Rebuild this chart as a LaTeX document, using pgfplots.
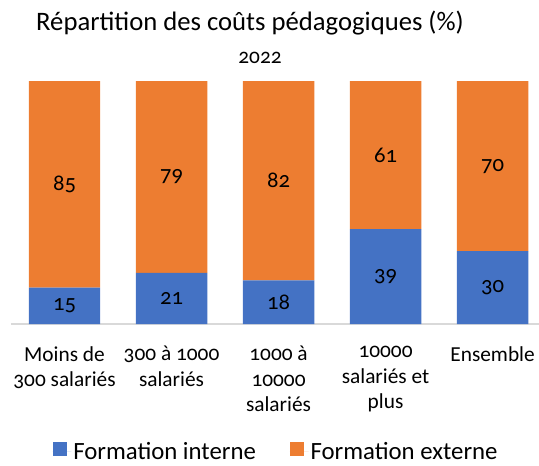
\documentclass[border=0pt]{standalone}
\usepackage{pgfplots}
\pgfplotsset{compat=1.18}
\usepackage{fontspec}
\setmainfont{Carlito}[Numbers=OldStyle]
\definecolor{bleu}{HTML}{4472C4}
\definecolor{orangex}{HTML}{ED7D31}
\definecolor{axisgray}{HTML}{D9D9D9}
\pgfplotsset{
  common/.style={at={(8.25pt,105.75pt)}, anchor=south west,
    width=396pt, height=182.25pt, scale only axis,
    xmin=-0.5, xmax=4.434, ymin=0, ymax=100},
}
\begin{document}
\begin{tikzpicture}
\begin{axis}[
  common,
  ybar stacked, bar width=0.668,
  axis x line=bottom, axis y line=none,
  x axis line style={draw=axisgray, line width=1.1pt, -},
  xtick={0,1,2,3,4}, xtick style={draw=none},
  xticklabels={{Moins de\\300 salariés},{300 à 1000\\salariés},{1000 à\\10000\\salariés},{10000\\salariés et\\plus},{Ensemble}},
  xticklabel style={align=center, anchor=north, yshift=-11pt, font=\fontsize{16}{19.1}\selectfont},
  ytick=\empty,
  legend columns=2,
  legend style={draw=none, at={(axis description cs:0.502,-0.525)}, anchor=center, font=\fontsize{18.6}{21}\selectfont,
    nodes={inner sep=1.5pt},
    /tikz/every even column/.append style={column sep=24pt}},
  legend image code/.code={\fill[#1] (0pt,-3.5pt) rectangle (10.5pt,7pt); \path (0pt,0pt) -- (14pt,0pt);},
]
\addplot[fill=bleu, draw=none] coordinates {(0,15) (1,21) (2,18) (3,39) (4,30)};
\addplot[fill=orangex, draw=none] coordinates {(0,85) (1,79) (2,82) (3,61) (4,70)};
\legend{Formation interne, Formation externe}
\end{axis}
\begin{axis}[
  common, axis lines=none, ticks=none,
  nodes near coords, point meta=explicit symbolic,
  every node near coord/.append style={anchor=center, font=\fontsize{17}{20}\selectfont, text=black},
]
\addplot[draw=none, mark=none, only marks] coordinates {(0,7.5)[15] (1,10.5)[21] (2,9)[18] (3,19.5)[39] (4,15)[30]};
\addplot[draw=none, mark=none, only marks] coordinates {(0,57.5)[85] (1,60.5)[79] (2,59)[82] (3,69.5)[61] (4,65)[70]};
\end{axis}
\node[anchor=base, font=\fontsize{20}{23}\selectfont] at (187.5pt,325.7pt) {Répartition des coûts pédagogiques (\%)};
\node[anchor=base, font=\fontsize{16}{19}\selectfont] at (195pt,300.75pt) {2022};
\pgfresetboundingbox
\useasboundingbox (0,0) rectangle (404.25pt,348.75pt);
\end{tikzpicture}
\end{document}
